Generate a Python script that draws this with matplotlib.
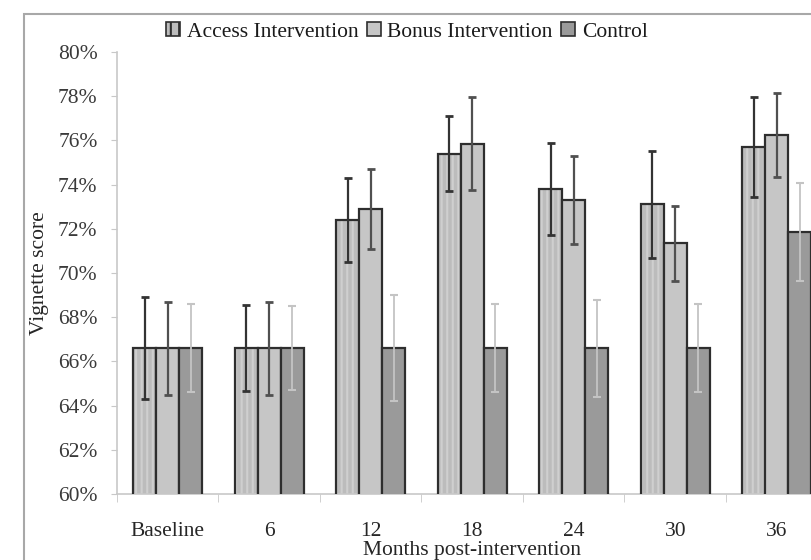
import numpy as np
import matplotlib.pyplot as plt
from matplotlib.patches import Patch, Rectangle

plt.rcParams['font.family'] = ['Liberation Serif', 'DejaVu Serif']
plt.rcParams['hatch.linewidth'] = 1.5

# data (percent)
months = ["Baseline", "6", "12", "18", "24", "30", "36"]
access = [66.6, 66.6, 72.4, 75.4, 73.8, 73.1, 75.7]
access_err = [2.3, 1.95, 1.9, 1.7, 2.1, 2.4, 2.25]
bonus = [66.6, 66.6, 72.9, 75.85, 73.3, 71.35, 76.25]
bonus_err = [2.1, 2.1, 1.8, 2.1, 2.0, 1.7, 1.9]
control = [66.6, 66.6, 66.6, 66.6, 66.6, 66.6, 71.85]
control_err = [2.0, 1.9, 2.4, 2.0, 2.2, 2.0, 2.2]

fs = 15.5
txt = "#262626"

fig = plt.figure(figsize=(8.12, 5.6), dpi=100)
# outer chart frame (cropped at right/bottom like the original)
fig.patches.append(Rectangle((24 / 812, -0.05), 1.2, 1 - 14 / 560 + 0.05,
                             transform=fig.transFigure, fill=False,
                             edgecolor="#a8a8a8", linewidth=1.5))

ax = fig.add_axes([117 / 812, 66 / 560, 710.5 / 812, 442 / 560])

x = np.arange(len(months))
w = 0.227
edge = "#2e2e2e"

# access: light grey with faint vertical stripes
ax.bar(x - w, access, w, facecolor="#bcbcbc", edgecolor="#cfcfcf",
       hatch="|||", linewidth=0, zorder=2)
ax.bar(x - w, access, w, fill=False, edgecolor=edge, linewidth=1.6, zorder=3)
ax.bar(x, bonus, w, facecolor="#c6c6c6", edgecolor=edge, linewidth=1.6, zorder=3)
ax.bar(x + w, control, w, facecolor="#9a9a9a", edgecolor=edge, linewidth=1.6, zorder=3)

ax.errorbar(x - w, access, yerr=access_err, fmt="none", ecolor="#333333",
            elinewidth=1.6, capsize=3, capthick=2, zorder=4)
ax.errorbar(x, bonus, yerr=bonus_err, fmt="none", ecolor="#505050",
            elinewidth=1.6, capsize=3, capthick=2, zorder=4)
ax.errorbar(x + w, control, yerr=control_err, fmt="none", ecolor="#c4c4c4",
            elinewidth=1.3, capsize=3, capthick=1.5, zorder=4)

ax.set_ylim(60, 80)
ax.set_xlim(-0.5, len(months) - 0.5)
ax.set_yticks(np.arange(60, 81, 2))
ax.set_yticklabels([f"{v}%" for v in range(60, 81, 2)])
ax.set_xticks(x)
ax.set_xticklabels(months)
ax.set_xticks(np.arange(-0.5, len(months)), minor=True)
ax.tick_params(axis="x", which="major", length=0, pad=20, labelsize=fs,
               labelcolor=txt)
ax.tick_params(axis="x", which="minor", length=6, color="#c8c8c8", direction="out")
ax.tick_params(axis="y", length=4, color="#c8c8c8", labelsize=fs,
               labelcolor="#3a3a3a", pad=10)

for s in ["top", "right"]:
    ax.spines[s].set_visible(False)
for s in ["left", "bottom"]:
    ax.spines[s].set_color("#c8c8c8")
    ax.spines[s].set_linewidth(1.2)

ax.set_ylabel("Vignette score", fontsize=fs, color=txt, labelpad=6)
fig.text(472 / 812, 1 - 551 / 560, "Months post-intervention", ha="center",
         va="center", fontsize=fs, color=txt)

handles = [
    Patch(facecolor="#bcbcbc", edgecolor=edge, hatch="||", linewidth=1.2),
    Patch(facecolor="#c6c6c6", edgecolor=edge, linewidth=1.2),
    Patch(facecolor="#9a9a9a", edgecolor=edge, linewidth=1.2),
]
fig.legend(handles, ["Access Intervention", "Bonus Intervention", "Control"],
           loc="center", bbox_to_anchor=(407 / 812, 1 - 32 / 560), ncol=3,
           frameon=False, fontsize=fs, handlelength=0.65, handleheight=0.65,
           handletextpad=0.3, columnspacing=0.4, labelcolor="#1a1a1a")

fig.savefig("out.png", dpi=100)
